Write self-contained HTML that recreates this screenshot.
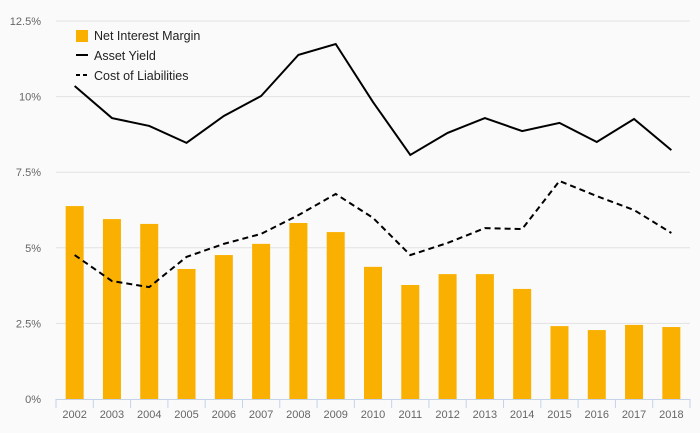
<!DOCTYPE html>
<html><head><meta charset="utf-8"><style>
body{margin:0;background:#fafafa;font-family:"Liberation Sans",sans-serif}
svg{display:block}
</style></head><body>
<svg id="c" width="700" height="433"></svg>
<script>
const years=["2002","2003","2004","2005","2006","2007","2008","2009","2010","2011","2012","2013","2014","2015","2016","2017","2018"];
const nim=[6.38,5.95,5.79,4.30,4.76,5.13,5.82,5.52,4.37,3.77,4.13,4.13,3.64,2.41,2.28,2.45,2.38];
const assetYield=[10.35,9.29,9.03,8.47,9.36,10.02,11.38,11.74,9.82,8.07,8.80,9.29,8.86,9.13,8.50,9.26,8.23];
const costLiab=[4.76,3.90,3.70,4.70,5.13,5.46,6.08,6.78,5.99,4.76,5.16,5.65,5.62,7.21,6.71,6.25,5.49];
const yTicks=[0,2.5,5,7.5,10,12.5];
const yTickLabels=["0%","2.5%","5%","7.5%","10%","12.5%"];
const NS="http://www.w3.org/2000/svg";
const svg=document.getElementById('c');
const x0=56,x1=690,y0=399,y1=21,yMax=12.5;
const bw=(x1-x0)/years.length;
const X=i=>x0+bw*(i+0.5);
const Y=v=>y0-(v/yMax)*(y0-y1);
function mk(t,a,p){const e=document.createElementNS(NS,t);for(const k in a)e.setAttribute(k,a[k]);(p||svg).appendChild(e);return e;}
yTicks.forEach((t,i)=>{
  if(t>0){const g=mk('line',{x1:x0,x2:x1,y1:Y(t),y2:Y(t),stroke:'#e2e2e2','stroke-width':1});
  
  }
  const l=mk('text',{x:41,y:Y(t)+4,'text-anchor':'end','font-size':11,fill:'#666'});l.textContent=yTickLabels[i];
  
  
});
nim.forEach((v,i)=>{
  const r=mk('rect',{x:X(i)-9,y:Y(v),width:18,height:y0-Y(v),fill:'#f9b000'});
  
  
});
const ax=mk('line',{x1:x0,x2:x1,y1:y0+0.5,y2:y0+0.5,stroke:'#c5d3e8','stroke-width':1});


for(let i=0;i<=years.length;i++){const t=mk('line',{x1:x0+bw*i,x2:x0+bw*i,y1:y0,y2:y0+9,stroke:'#c5d3e8'});

}
years.forEach((yr,i)=>{const l=mk('text',{x:X(i),y:418,'text-anchor':'middle','font-size':11,fill:'#666'});l.textContent=yr;

});
function line(arr,name,dash){const p=mk('polyline',{points:arr.map((v,i)=>X(i)+','+Y(v)).join(' '),fill:'none',stroke:'#000','stroke-width':2,'stroke-dasharray':dash||'none'});

}
line(assetYield,'asset-yield-line');
line(costLiab,'cost-of-liabilities-line','6,4');
const lg=mk('g',{});


mk('rect',{x:76,y:30,width:12,height:12,fill:'#f9b000'},lg);
mk('line',{x1:76,x2:88,y1:55,y2:55,stroke:'#000','stroke-width':2},lg);
mk('line',{x1:76,x2:88,y1:75,y2:75,stroke:'#000','stroke-width':2,'stroke-dasharray':'4,3'},lg);
[["Net Interest Margin",40],["Asset Yield",60],["Cost of Liabilities",80]].forEach(([t,y])=>{const e=mk('text',{x:94,y:y,'font-size':12.5,fill:'#222'},lg);e.textContent=t;

});
</script>
</body></html>
